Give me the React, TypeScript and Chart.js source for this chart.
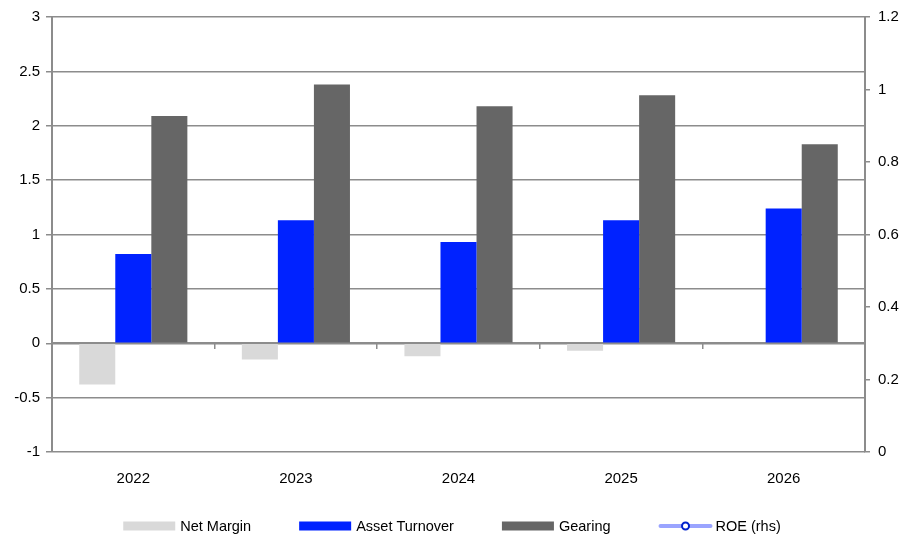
import React, { useEffect, useRef } from "react";
import { Chart, registerables } from "chart.js";

Chart.register(...registerables);

const categories = ["2022", "2023", "2024", "2025", "2026"];
const netMargin = [-0.38, -0.15, -0.12, -0.07, -0.01];
const assetTurnover = [0.82, 1.13, 0.93, 1.13, 1.24];
const gearing = [2.09, 2.38, 2.18, 2.28, 1.83];
// ROE (rhs) is listed in the legend but no values are visible on the chart
const roe: (number | null)[] = [null, null, null, null, null];

const FONT = "'Liberation Sans', Arial, sans-serif";
const GRID = "#8c8c8c";

const fmt = (v: any) => String(Number(Number(v).toFixed(2)));

const legendPlugin = {
  id: "customLegend",
  afterDraw(chart: any) {
    const ctx = chart.ctx;
    ctx.save();
    ctx.font = `14.5px ${FONT}`;
    ctx.textBaseline = "middle";
    const y = 526;
    const boxW = 52;
    const gap = 48;
    const items = chart.data.datasets.map((ds: any) => ({
      label: ds.label,
      type: ds.type || "bar",
      color: ds.type === "line" ? ds.borderColor : ds.backgroundColor,
      point: ds.pointBorderColor,
    }));
    const widths = items.map((it: any) => boxW + 5 + ctx.measureText(it.label).width);
    const total = widths.reduce((a: number, b: number) => a + b, 0) + gap * (items.length - 1);
    let x = 452 - total / 2;
    items.forEach((it: any, i: number) => {
      if (it.type === "line") {
        ctx.strokeStyle = it.color;
        ctx.lineWidth = 4;
        ctx.lineCap = "round";
        ctx.beginPath();
        ctx.moveTo(x + 2, y);
        ctx.lineTo(x + boxW, y);
        ctx.stroke();
        ctx.beginPath();
        ctx.arc(x + boxW / 2 + 1, y, 3.5, 0, Math.PI * 2);
        ctx.fillStyle = "#ffffff";
        ctx.fill();
        ctx.lineWidth = 2;
        ctx.strokeStyle = it.point;
        ctx.stroke();
      } else {
        ctx.fillStyle = it.color;
        ctx.fillRect(x, y - 4.5, boxW, 9);
      }
      ctx.fillStyle = "#000000";
      ctx.textAlign = "left";
      ctx.fillText(it.label, x + boxW + 5, y + 1);
      x += widths[i] + gap;
    });
    ctx.restore();
  },
};

export default function App() {
  const ref = useRef<HTMLCanvasElement | null>(null);

  useEffect(() => {
    if (!ref.current) return;
    const chart = new Chart(ref.current, {
      type: "bar",
      data: {
        labels: categories,
        datasets: [
          {
            label: "Net Margin",
            data: netMargin,
            backgroundColor: "#d9d9d9",
            xAxisID: "x",
            yAxisID: "y",
            categoryPercentage: 0.665,
            barPercentage: 1,
          },
          {
            label: "Asset Turnover",
            data: assetTurnover,
            backgroundColor: "#0022ff",
            xAxisID: "x",
            yAxisID: "y",
            categoryPercentage: 0.665,
            barPercentage: 1,
          },
          {
            label: "Gearing",
            data: gearing,
            backgroundColor: "#666666",
            xAxisID: "x",
            yAxisID: "y",
            categoryPercentage: 0.665,
            barPercentage: 1,
          },
          {
            type: "line",
            label: "ROE (rhs)",
            data: roe,
            borderColor: "#9aa4ff",
            backgroundColor: "#9aa4ff",
            pointBorderColor: "#0022cc",
            pointBackgroundColor: "#ffffff",
            borderWidth: 3,
            xAxisID: "x",
            yAxisID: "y1",
          } as any,
        ],
      },
      options: {
        animation: false,
        responsive: false,
        maintainAspectRatio: false,
        layout: { padding: { top: 16, left: 0, right: 0, bottom: 0 } },
        plugins: {
          legend: { display: false },
          tooltip: { enabled: false },
        },
        scales: {
          x: {
            type: "category",
            position: { y: 0 } as any,
            offset: true,
            grid: {
              display: true,
              drawOnChartArea: false,
              drawTicks: true,
              tickLength: 5,
              color: GRID,
              lineWidth: 1.5,
              offset: true,
            },
            border: { display: true, color: GRID, width: 2 },
            ticks: { display: false },
          },
          x2: {
            type: "category",
            position: "bottom",
            offset: true,
            grid: { display: false },
            border: { display: false },
            ticks: {
              color: "#000000",
              font: { family: FONT, size: 15 },
              padding: 10,
              maxRotation: 0,
            },
            afterFit(scale: any) {
              scale.height = 87;
            },
          },
          y: {
            type: "linear",
            position: "left",
            min: -1,
            max: 3,
            ticks: {
              stepSize: 0.5,
              color: "#000000",
              font: { family: FONT, size: 15 },
              padding: 6,
              callback: fmt,
            },
            grid: {
              color: GRID,
              lineWidth: 1.5,
              tickLength: 6,
            },
            border: { display: true, color: GRID, width: 2 },
            afterFit(scale: any) {
              scale.width = 52;
            },
          },
          y1: {
            type: "linear",
            position: "right",
            min: 0,
            max: 1.2,
            ticks: {
              stepSize: 0.2,
              color: "#000000",
              font: { family: FONT, size: 15 },
              padding: 8,
              callback: fmt,
            },
            grid: {
              drawOnChartArea: false,
              color: GRID,
              lineWidth: 1.5,
              tickLength: 5,
            },
            border: { display: true, color: GRID, width: 2 },
            afterFit(scale: any) {
              scale.width = 56;
            },
          },
        },
      } as any,
      plugins: [legendPlugin],
    });
    return () => chart.destroy();
  }, []);

  return (
    <div style={{ position: "fixed", left: 0, top: 0, width: 921, height: 539, background: "#ffffff" }}>
      <canvas ref={ref} width={921} height={539} style={{ width: 921, height: 539, display: "block" }} />
    </div>
  );
}
